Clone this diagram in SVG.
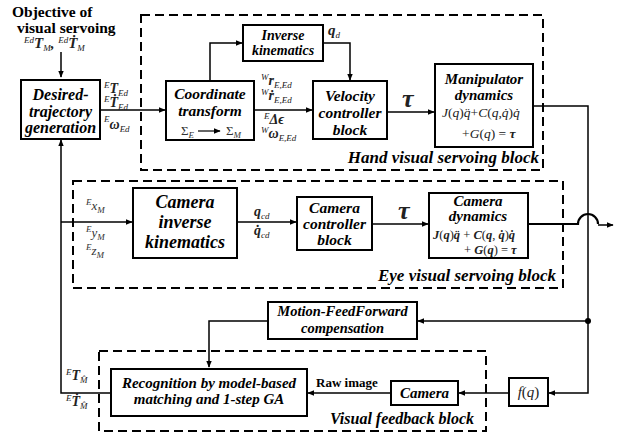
<svg xmlns="http://www.w3.org/2000/svg" width="627" height="432" viewBox="0 0 627 432">
<defs>
<marker id="ah" viewBox="0 0 10 10" refX="9" refY="5" markerWidth="7" markerHeight="7" markerUnits="userSpaceOnUse" orient="auto">
<path d="M0,1 L10,5 L0,9 Z" fill="#000"/>
</marker>
<style>
.box{fill:#fff;stroke:#000;stroke-width:2}
.dash{fill:none;stroke:#000;stroke-width:2;stroke-dasharray:9 5}
.c{fill:none;stroke:#000;stroke-width:1.5}
.bt{font-family:"Liberation Serif",serif;font-weight:bold;font-style:italic;font-size:15.5px;text-anchor:middle;fill:#000}
.m{font-family:"Liberation Serif","DejaVu Serif",serif;font-style:italic;font-size:13px;fill:#333}
.mb{font-family:"Liberation Serif","DejaVu Serif",serif;font-style:italic;font-weight:bold;font-size:14px;fill:#222}
.s{font-size:9px;font-weight:normal}
.f{font-family:"Liberation Serif","DejaVu Serif",serif;font-size:13.5px;fill:#222}
.lab{font-family:"Liberation Serif",serif;font-weight:bold;font-style:italic;font-size:17px;text-anchor:end;fill:#000}
.ti{font-family:"Liberation Serif",serif;font-weight:bold;font-size:15.5px;fill:#000}
</style>
</defs>

<!-- dashed blocks -->
<g id="hand-block">
<rect class="dash" x="141" y="15" width="402" height="155"/>
<text class="lab" x="539" y="163">Hand visual servoing block</text>
</g>
<g id="eye-block">
<rect class="dash" x="73" y="181" width="490" height="107"/>
<text class="lab" x="556" y="281">Eye visual servoing block</text>
</g>
<g id="feedback-block">
<rect class="dash" x="99" y="351" width="387" height="80"/>
<text class="lab" x="474" y="424" style="font-size:16px">Visual feedback block</text>
</g>

<!-- connectors -->
<g id="connectors">
<path class="c" d="M61,52 V77" marker-end="url(#ah)"/>
<path class="c" d="M100,110 H165" marker-end="url(#ah)"/>
<path class="c" d="M210,81 V43 H242" marker-end="url(#ah)"/>
<path class="c" d="M323,43 H350 V80" marker-end="url(#ah)"/>
<path class="c" d="M254,110 H312" marker-end="url(#ah)"/>
<path class="c" d="M387,112 H434" marker-end="url(#ah)"/>
<path class="c" d="M533,106 H588 V393 H549" marker-end="url(#ah)"/>
<path class="c" d="M588,321 H418" marker-end="url(#ah)"/>
<circle cx="588" cy="321" r="3" fill="#000"/>
<path class="c" d="M268,321 H209 V367" marker-end="url(#ah)"/>
<path class="c" d="M509,393 H459" marker-end="url(#ah)"/>
<path class="c" d="M391,393 H308" marker-end="url(#ah)"/>
<path class="c" d="M111,393 H61 V140" marker-end="url(#ah)"/>
<path class="c" d="M61,222 H132" marker-end="url(#ah)"/>
<path class="c" d="M237,222 H296" marker-end="url(#ah)"/>
<path class="c" d="M372,224 H428" marker-end="url(#ah)"/>
<path fill="none" stroke="#000" stroke-width="2.2" d="M528,224 H578 A10,10 0 0 1 598,224"/>
<path class="c" d="M598,225 H613" marker-end="url(#ah)"/>
</g>

<!-- title -->
<g id="objective">
<text class="ti" x="12" y="17">Objective of</text>
<text class="ti" x="17" y="33">visual servoing</text>
<text class="mb" x="24" y="48" style="font-size:15px"><tspan class="s" dy="-5">Ed</tspan><tspan dy="5">T</tspan><tspan class="s" dy="3">M</tspan><tspan dy="-3">,  </tspan><tspan class="s" dy="-5">Ed</tspan><tspan dy="5">Ṫ</tspan><tspan class="s" dy="3">M</tspan></text>
</g>

<g id="desired-trajectory">
<rect class="box" x="21" y="80" width="79" height="59"/>
<text class="bt" x="60.5" y="100" style="font-size:16px">Desired-</text>
<text class="bt" x="60.5" y="117" style="font-size:16px">trajectory</text>
<text class="bt" x="60.5" y="133" style="font-size:16px">generation</text>
</g>
<text class="mb" x="104" y="93"><tspan class="s" dy="-5">E</tspan><tspan dy="5">T</tspan><tspan class="s" dy="3">Ed</tspan></text>
<text class="mb" x="104" y="107"><tspan class="s" dy="-5">E</tspan><tspan dy="5">Ṫ</tspan><tspan class="s" dy="3">Ed</tspan></text>
<text class="mb" x="104" y="129"><tspan class="s" dy="-7">E</tspan><tspan dy="7">ω</tspan><tspan class="s" dy="3">Ed</tspan></text>

<g id="coordinate-transform">
<rect class="box" x="166" y="81" width="88" height="59"/>
<text class="bt" x="210" y="99">Coordinate</text>
<text class="bt" x="210" y="116">transform</text>
<text class="m" x="181" y="135" style="font-style:normal">Σ<tspan class="s" dy="3" style="font-style:italic">E</tspan></text>
<path d="M198,131 H220" stroke="#000" stroke-width="1.2" marker-end="url(#ah)"/>
<text class="m" x="226" y="135" style="font-style:normal">Σ<tspan class="s" dy="3" style="font-style:italic">M</tspan></text>
</g>
<text class="mb" x="261" y="85"><tspan class="s" dy="-5">W</tspan><tspan dy="5">r</tspan><tspan class="s" dy="3">E,Ed</tspan></text>
<text class="mb" x="261" y="100"><tspan class="s" dy="-5">W</tspan><tspan dy="5">ṙ</tspan><tspan class="s" dy="3">E,Ed</tspan></text>
<text class="mb" x="264" y="124"><tspan class="s" dy="-5">E</tspan><tspan dy="5">Δϵ</tspan></text>
<text class="mb" x="261" y="138"><tspan class="s" dy="-5">W</tspan><tspan dy="5">ω</tspan><tspan class="s" dy="3">E,Ed</tspan></text>

<g id="inverse-kinematics">
<rect class="box" x="243" y="25" width="80" height="36"/>
<text class="bt" x="283" y="40" style="font-size:14px">Inverse</text>
<text class="bt" x="283" y="55" style="font-size:14px">kinematics</text>
</g>
<text class="mb" x="328" y="35" style="font-size:15px">q<tspan class="s" dy="3">d</tspan></text>

<g id="velocity-controller">
<rect class="box" x="313" y="81" width="74" height="58"/>
<text class="bt" x="350" y="101">Velocity</text>
<text class="bt" x="350" y="118">controller</text>
<text class="bt" x="350" y="135">block</text>
</g>
<text class="mb" x="402" y="107" style="font-size:26px">τ</text>

<g id="manipulator-dynamics">
<rect class="box" x="435" y="64" width="98" height="83"/>
<text class="bt" x="484" y="84" style="font-size:15px">Manipulator</text>
<text class="bt" x="484" y="100" style="font-size:15px">dynamics</text>
<text class="f" x="442" y="117"><tspan font-style="italic">J</tspan>(<tspan font-style="italic">q</tspan>)<tspan font-style="italic">q̈</tspan>+<tspan font-style="italic">C</tspan>(<tspan font-style="italic">q</tspan>,<tspan font-style="italic">q̇</tspan>)<tspan font-style="italic">q̇</tspan></text>
<text class="f" x="462" y="138">+<tspan font-style="italic">G</tspan>(<tspan font-style="italic">q</tspan>) = <tspan font-style="italic" font-weight="bold">τ</tspan></text>
</g>

<text class="m" x="86" y="210"><tspan class="s" dy="-5">E</tspan><tspan dy="5">x</tspan><tspan class="s" dy="3">M</tspan></text>
<text class="m" x="86" y="237"><tspan class="s" dy="-5">E</tspan><tspan dy="5">y</tspan><tspan class="s" dy="3">M</tspan></text>
<text class="m" x="86" y="255"><tspan class="s" dy="-5">E</tspan><tspan dy="5">z</tspan><tspan class="s" dy="3">M</tspan></text>

<g id="camera-inverse-kinematics">
<rect class="box" x="133" y="188" width="104" height="70"/>
<text class="bt" x="185" y="208" style="font-size:18px">Camera</text>
<text class="bt" x="185" y="228" style="font-size:18px">inverse</text>
<text class="bt" x="185" y="248" style="font-size:18px">kinematics</text>
</g>
<text class="mb" x="254" y="216">q<tspan class="s" dy="3">cd</tspan></text>
<text class="mb" x="254" y="235">q̇<tspan class="s" dy="3">cd</tspan></text>

<g id="camera-controller">
<rect class="box" x="297" y="197" width="75" height="53"/>
<text class="bt" x="334.5" y="213">Camera</text>
<text class="bt" x="334.5" y="229">controller</text>
<text class="bt" x="334.5" y="245">block</text>
</g>
<text class="mb" x="398" y="219" style="font-size:26px">τ</text>

<g id="camera-dynamics">
<rect class="box" x="429" y="193" width="99" height="65"/>
<text class="bt" x="478" y="206" style="font-size:15px">Camera</text>
<text class="bt" x="478" y="221" style="font-size:15px">dynamics</text>
<text class="f" x="433" y="239" style="font-size:12.5px"><tspan font-style="italic" font-weight="bold">J</tspan>(<tspan font-style="italic" font-weight="bold">q</tspan>)<tspan font-style="italic" font-weight="bold">q̈</tspan> + <tspan font-style="italic" font-weight="bold">C</tspan>(<tspan font-style="italic" font-weight="bold">q</tspan>, <tspan font-style="italic" font-weight="bold">q̇</tspan>)<tspan font-style="italic" font-weight="bold">q̇</tspan></text>
<text class="f" x="464" y="254" style="font-size:12.5px">+ <tspan font-style="italic" font-weight="bold">G</tspan>(<tspan font-style="italic" font-weight="bold">q</tspan>) = <tspan font-style="italic" font-weight="bold">τ</tspan></text>
</g>

<g id="motion-feedforward">
<rect class="box" x="268" y="302" width="149" height="37"/>
<text class="bt" x="342.5" y="316" style="font-size:14.5px">Motion-FeedForward</text>
<text class="bt" x="342.5" y="333" style="font-size:14.5px">compensation</text>
</g>

<g id="recognition">
<rect class="box" x="111" y="369" width="196" height="47"/>
<text class="bt" x="209" y="388" style="font-size:15px">Recognition by model-based</text>
<text class="bt" x="209" y="404" style="font-size:15px">matching and 1-step GA</text>
</g>
<text class="mb" x="66" y="380"><tspan class="s" dy="-5">E</tspan><tspan dy="5">T</tspan><tspan class="s" dy="3">M̂</tspan></text>
<text class="mb" x="66" y="406"><tspan class="s" dy="-5">E</tspan><tspan dy="5">Ṫ</tspan><tspan class="s" dy="3">M̂</tspan></text>

<text class="ti" x="316" y="387" style="font-size:13px">Raw image</text>

<g id="camera">
<rect class="box" x="391" y="381" width="67" height="24"/>
<text class="bt" x="424.5" y="398" style="font-size:15px">Camera</text>
</g>

<g id="fq">
<rect class="box" x="509" y="378" width="39" height="28"/>
<text class="m" x="528.5" y="397" text-anchor="middle" style="font-size:15px;fill:#222">f<tspan font-style="normal">(</tspan>q<tspan font-style="normal">)</tspan></text>
</g>
</svg>
